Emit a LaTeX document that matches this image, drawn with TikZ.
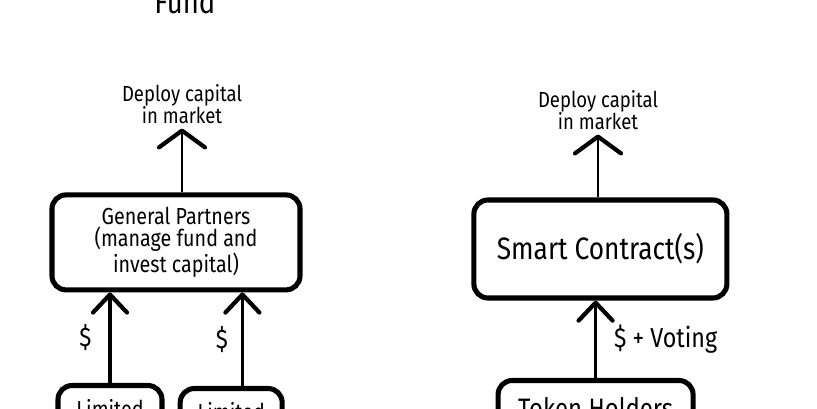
\documentclass[tikz,border=0pt]{standalone}
\usepackage{fontspec}
\setmainfont{Fira Sans}[FakeStretch=0.85]
\usetikzlibrary{arrows.meta,positioning,calc}

\begin{document}
\begin{tikzpicture}[
  box/.style={rectangle, draw, line width=3.6pt, rounded corners=0.35cm, align=center, font=\fontsize{16.5}{15.5}\selectfont},
  note/.style={align=center, font=\fontsize{15.5}{15.5}\selectfont},
  flow/.style={line width=2.6pt, -{Straight Barb[length=0.45cm, width=0.85cm, line width=3pt, round]}},
  flowtop/.style={line width=2pt, -{Straight Barb[length=0.42cm, width=1.15cm, line width=3pt, round]}},
]
  \useasboundingbox (0,0) rectangle (20.425,-10.225);

  % traditional fund
  \node[note, font=\fontsize{23}{24}\selectfont, anchor=base] (fund) at (4.62,-0.35) {Fund};
  \node[note] (deployL) at (4.55,-2.6) {Deploy capital\\in market};
  \node[box, minimum width=6.2cm, minimum height=2.375cm] (gp) at (4.4,-6.06) {General Partners\\(manage fund and\\invest capital)};
  \node[box, minimum width=2.6cm, minimum height=1.7cm, anchor=north] (lpA) at (2.75,-9.575) {Limited\\Partners};
  \node[box, minimum width=2.55cm, minimum height=1.7cm, anchor=north] (lpB) at (5.78,-9.65) {Limited\\Partners};
  \coordinate (lpBtop) at ([xshift=0.28cm]lpB.north);

  \draw[flowtop] (gp.north -| deployL) -- (deployL.south);
  \draw[flow] (lpA.north) -- (lpA.north |- gp.south) node[midway, left=0.3cm, note, font=\fontsize{19}{19}\selectfont] {\$};
  \draw[flow] (lpBtop) -- (lpBtop |- gp.south) node[midway, left=0.2cm, note, font=\fontsize{19}{19}\selectfont] {\$};

  % tokenized fund
  \node[note] (deployR) at (14.95,-2.75) {Deploy capital\\in market};
  \node[box, minimum width=6.325cm, minimum height=2.45cm, font=\fontsize{22}{23}\selectfont] (sc) at (15.01,-6.225) {Smart Contract(s)};
  \node[box, minimum width=4.875cm, minimum height=1.4cm, anchor=north, font=\fontsize{20}{21}\selectfont] (th) at (14.89,-9.45) {Token Holders};

  \draw[flowtop] (sc.north -| deployR) -- (deployR.south);
  \draw[flow] (th.north) -- (th.north |- sc.south) node[midway, right=0.3cm, note, font=\fontsize{19.5}{19}\selectfont] {\$ + Voting};
\end{tikzpicture}
\end{document}
